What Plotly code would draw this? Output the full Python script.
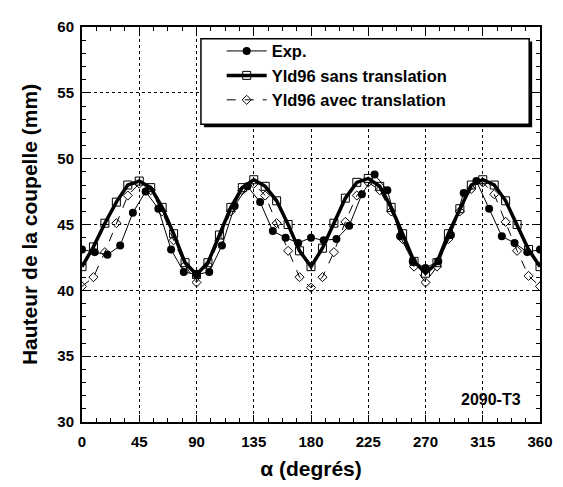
import plotly.graph_objects as go

# Experimental data (every 10 degrees)
exp_angle = list(range(0, 361, 10))
exp_height = [43.1, 42.9, 42.7, 43.4, 45.9, 47.5, 46.2, 43.1, 41.4, 41.2,
              41.4, 43.4, 46.4, 47.9, 46.7, 44.5, 44.0, 43.6, 44.0, 43.8,
              43.9, 44.9, 47.3, 48.8, 47.6, 44.1, 42.2, 41.7, 42.2, 44.2,
              47.4, 48.3, 46.2, 44.1, 43.6, 42.9, 43.1]

# Model curves (every 9 degrees)
model_angle = list(range(0, 361, 9))
sans_height = [41.8, 43.3, 45.1, 46.7, 48.0, 48.3, 47.8, 46.3, 44.3, 42.1,
               41.2, 42.1, 44.2, 46.3, 47.8, 48.4, 47.9, 46.8, 45.0, 43.0,
               41.8, 43.2, 45.1, 47.0, 48.2, 48.5, 47.9, 46.3, 44.3, 42.2,
               41.3, 42.1, 44.3, 46.2, 48.0, 48.4, 48.0, 46.8, 45.0, 43.1,
               41.8]
avec_height = [40.3, 41.0, 42.9, 45.1, 47.2, 48.1, 47.6, 46.0, 43.8, 41.9,
               40.6, 41.9, 43.8, 46.0, 47.6, 48.1, 47.2, 45.1, 43.0, 41.0,
               40.2, 41.0, 42.9, 45.2, 47.2, 48.2, 47.6, 46.0, 43.9, 41.8,
               40.6, 41.8, 43.9, 46.0, 47.7, 48.2, 47.3, 45.2, 43.0, 41.1,
               40.3]

x_ticks = [0, 45, 90, 135, 180, 225, 270, 315, 360]
y_ticks = [30, 35, 40, 45, 50, 55, 60]

FONT = "Arial, Liberation Sans, sans-serif"

fig = go.Figure()
fig.add_trace(go.Scatter(
    x=exp_angle, y=exp_height, name="<b>Exp.</b>", mode="lines+markers",
    line=dict(color="black", width=1),
    marker=dict(symbol="circle", size=8, color="black")))
fig.add_trace(go.Scatter(
    x=model_angle, y=sans_height, name="<b>Yld96 sans translation</b>", mode="lines+markers",
    line=dict(color="black", width=3.5),
    marker=dict(symbol="square-open", size=8, color="black", line=dict(width=1))))
fig.add_trace(go.Scatter(
    x=model_angle, y=avec_height, name="<b>Yld96 avec translation</b>", mode="lines+markers",
    line=dict(color="black", width=1, dash="dash"),
    marker=dict(symbol="diamond-open", size=7, color="black", line=dict(width=1))))

# legend box with shadow
bx0, bx1, by0, by1 = 0.2597, 0.9764, 0.7537, 0.9704
dx, dy = 3 / 466, 3 / 406
fig.add_shape(type="rect", xref="paper", yref="paper", x0=bx0 + dx, x1=bx1 + dx,
              y0=by0 - dy, y1=by1 - dy, fillcolor="black", line=dict(width=0), layer="above")
fig.add_shape(type="rect", xref="paper", yref="paper", x0=bx0, x1=bx1, y0=by0, y1=by1,
              fillcolor="white", line=dict(color="black", width=1.5), layer="above")

fig.add_annotation(x=0.9635, y=31.7, xref="paper", yref="y", text="<b>2090-T3</b>",
                   showarrow=False, xanchor="right", yanchor="middle",
                   font=dict(family=FONT, size=16, color="black"))

axis_common = dict(
    showline=True, linecolor="black", linewidth=2, mirror="allticks",
    ticks="inside", ticklen=7, tickwidth=1, tickcolor="black",
    showgrid=True, gridcolor="black", gridwidth=1, griddash="dot",
    zeroline=False, tickfont=dict(family=FONT, size=15, color="black"),
    ticklabeloverflow="allow",
)

fig.update_xaxes(range=[0, 360], tickvals=x_ticks,
                 ticktext=[f"<b>{v}</b>" for v in x_ticks],
                 minor=dict(dtick=11.25, ticks="inside", ticklen=4, tickcolor="black", showgrid=False),
                 title=dict(text="<b>α (degrés)</b>", font=dict(family=FONT, size=21, color="black"), standoff=12),
                 ticklabelstandoff=5,
                 **axis_common)
fig.update_yaxes(range=[30, 60], tickvals=y_ticks,
                 ticktext=[f"<b>{v}</b>" for v in y_ticks],
                 minor=dict(dtick=1, ticks="inside", ticklen=4, tickcolor="black", showgrid=False),
                 title=dict(text="<b>Hauteur de la coupelle (mm)</b>", font=dict(family=FONT, size=21, color="black"), standoff=14),
                 ticklabelstandoff=3,
                 **axis_common)

fig.update_layout(
    width=555, height=479,
    margin=dict(l=74, r=15, t=10, b=63),
    plot_bgcolor="white", paper_bgcolor="white",
    font=dict(family=FONT, color="black"),
    legend=dict(x=0.305, y=0.983, xanchor="left", yanchor="top",
                bgcolor="rgba(0,0,0,0)", borderwidth=0,
                font=dict(family=FONT, size=16.5, color="black"),
                tracegroupgap=0, itemwidth=40),
)

fig.write_html("out.html")
